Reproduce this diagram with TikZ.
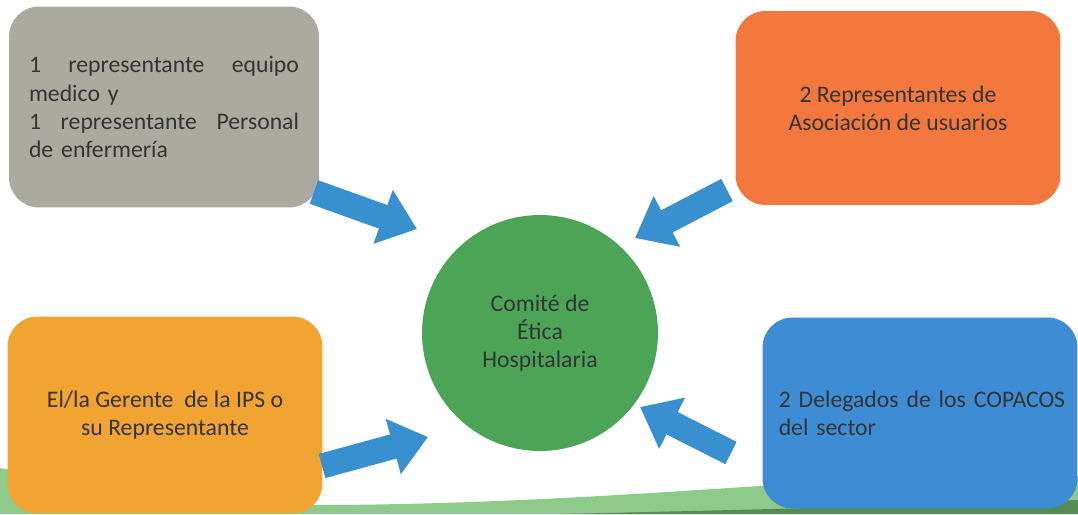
\documentclass[tikz,border=0pt]{standalone}
\usepackage{fontspec}
\setmainfont{Carlito}
\usepackage{tikz}
\usetikzlibrary{positioning,shapes,arrows.meta}

\definecolor{boxGray}{RGB}{170,170,161}
\definecolor{boxOrange}{RGB}{242,120,62}
\definecolor{boxGold}{RGB}{241,164,50}
\definecolor{boxBlue}{RGB}{62,140,212}
\definecolor{hubGreen}{RGB}{76,164,86}
\definecolor{arrowBlue}{RGB}{56,144,206}
\definecolor{textDark}{RGB}{52,52,52}
\definecolor{bandLight}{RGB}{142,202,138}
\definecolor{bandDark}{RGB}{84,140,84}

\begin{document}
\begin{tikzpicture}[
x=0.02cm, y=-0.02cm,
member/.style={rectangle, rounded corners=0.6cm, text=textDark, inner sep=0pt,
  font=\fontsize{13.5}{16}\selectfont},
hub/.style={circle, fill=hubGreen, minimum size=4.72cm, inner sep=0pt, align=center,
  text=textDark, font=\fontsize{13.5}{16}\selectfont},
feed/.style={draw=arrowBlue, line width=0.5cm, -{Triangle[length=0.72cm, width=1.1cm]}},
]
\useasboundingbox (0,0) rectangle (1078,514);

%Background band
\fill[bandLight] (0,514) -- (0,468) .. controls (120,490) and (220,504) .. (330,505)
  .. controls (500,504) and (650,493) .. (760,486)
  .. controls (900,480) and (1000,478) .. (1078,476) -- (1078,514) -- cycle;
\fill[bandDark] (560,514) .. controls (700,511) and (900,506) .. (1078,500) -- (1078,514) -- cycle;

\node[hub] (comite) at (540,333) {Comité de\\Ética\\Hospitalaria};
\node[member, fill=boxGray, minimum width=6.2cm, minimum height=4.02cm,
  text width=5.4cm, align=left] (equipo) at (164,107)
  {1\hfill representante\hfill equipo\\medico y\\1\hfill representante\hfill Personal\\de enfermería};
\node[member, fill=boxOrange, minimum width=6.5cm, minimum height=3.88cm,
  align=center] (usuarios) at (898,108) {2 Representantes de\\Asociación de usuarios};
\node[member, fill=boxGold, minimum width=6.3cm, minimum height=3.94cm,
  align=center] (gerente) at (165,415) {El/la Gerente\ \ de la IPS o\\su Representante};
\node[member, fill=boxBlue, minimum width=6.3cm, minimum height=3.82cm,
  text width=5.65cm, inner xsep=0.325cm, align=left] (copacos) at (920,413)
  {\mbox{2 Delegados de los COPACOS}\\del sector};

%Arrow ends
\coordinate (equipo_out) at (314,192);
\coordinate (equipo_in) at (417,229);
\coordinate (usuarios_out) at (727,190);
\coordinate (usuarios_in) at (635,238);
\coordinate (gerente_out) at (322,466);
\coordinate (gerente_in) at (428,437);
\coordinate (copacos_out) at (731,453);
\coordinate (copacos_in) at (640,407);

%Members to committee
\draw[feed] (equipo_out) -- (equipo_in);
\draw[feed] (usuarios_out) -- (usuarios_in);
\draw[feed] (gerente_out) -- (gerente_in);
\draw[feed] (copacos_out) -- (copacos_in);
\end{tikzpicture}
\end{document}
